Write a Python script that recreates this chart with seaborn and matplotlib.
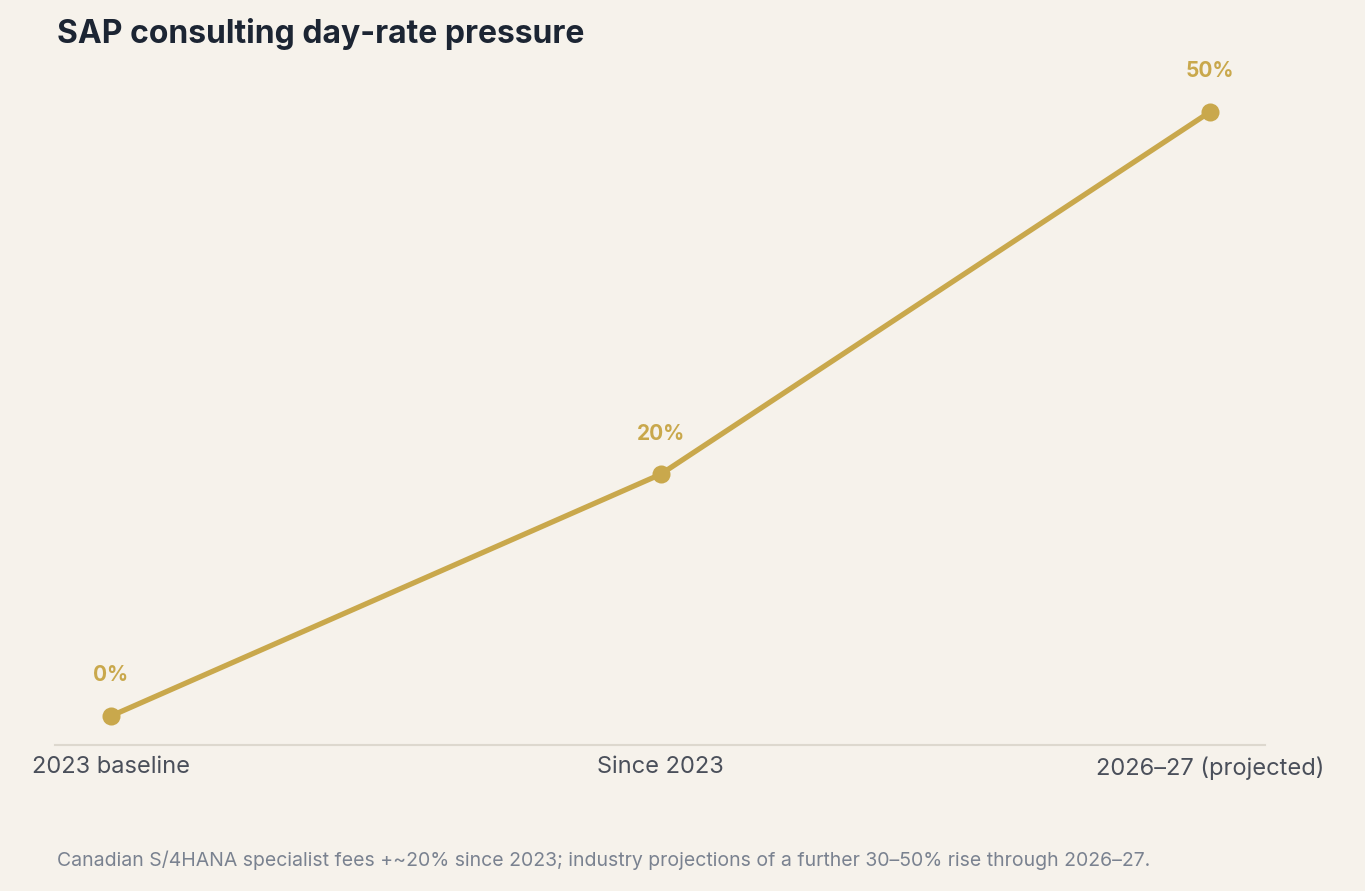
import matplotlib
matplotlib.use("Agg")
import matplotlib.pyplot as plt
import seaborn as sns
import pandas as pd

categories = ["2023 baseline", "Since 2023", "2026\u201327 (projected)"]
increase_pct = [0, 20, 50]
labels = ["0%", "20%", "50%"]

bg = "#f6f2eb"
gold = "#c9a84c"

sns.set_theme(style="white")
plt.rcParams["font.family"] = ["Inter", "DejaVu Sans"]

df = pd.DataFrame({"x": range(len(categories)), "y": increase_pct})

fig = plt.figure(figsize=(13.65, 8.91), dpi=100, facecolor=bg)
ax = fig.add_axes([0.0403, 0.1639, 0.8864, 0.7688], facecolor=bg)

sns.lineplot(data=df, x="x", y="y", ax=ax, color=gold, linewidth=3.8,
             marker="o", markersize=13, markeredgewidth=0, markeredgecolor=gold)

for xi, yi, lab in zip(df["x"], df["y"], labels):
    ax.annotate(lab, (xi, yi), xytext=(0, 22), textcoords="offset points",
                ha="center", va="bottom", color=gold, fontsize=15, fontweight="bold")

ax.set_xlim(-0.102, 2.1)
ax.set_ylim(-2.4, 54.3)
ax.set_xticks(df["x"])
ax.set_xticklabels(categories, fontsize=17, color="#4a4f5a")
ax.set_yticks([])
ax.set_xlabel("")
ax.set_ylabel("")
ax.tick_params(axis="x", length=0, pad=8)
for s in ["top", "left", "right"]:
    ax.spines[s].set_visible(False)
ax.spines["bottom"].set_color("#ddd8ce")
ax.spines["bottom"].set_linewidth(1.5)

fig.text(0.0418, 0.962, "SAP consulting day-rate pressure", fontsize=23,
         fontweight="bold", color="#1c2533", va="center", ha="left")
fig.text(0.0418, 0.035, "Canadian S/4HANA specialist fees +~20% since 2023; industry "
         "projections of a further 30\u201350% rise through 2026\u201327.",
         fontsize=14, color="#7a8290", va="center", ha="left")

fig.savefig("out.png", dpi=100, facecolor=bg)
